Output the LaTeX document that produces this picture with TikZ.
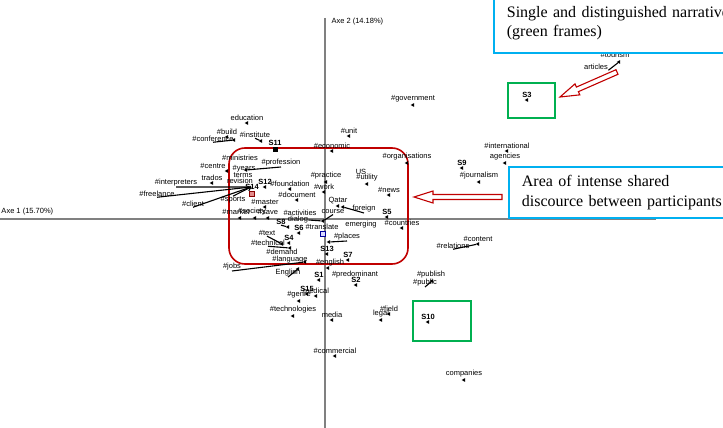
\documentclass[tikz,border=0pt]{standalone}
\usepackage{fontspec}
\setmainfont{Liberation Sans}
\newfontfamily\notefont{Liberation Serif}
\usetikzlibrary{positioning, calc, shapes.geometric}

\definecolor{areared}{RGB}{192,0,0}
\definecolor{framegreen}{RGB}{0,176,80}
\definecolor{noteblue}{RGB}{0,176,240}
\definecolor{axisgray}{RGB}{128,128,128}

% hollow arrow from tip #1 back to tail #2
\newcommand{\hollowarrow}[2]{%
  \coordinate (hb) at ($(#1)!19pt!(#2)$);
  \draw[hollow] (#1) -- ($(hb)!6pt!90:(#1)$) -- ($(hb)!2.5pt!90:(#1)$)
    -- ($(#2)!2.5pt!90:(hb)$) -- ($(#2)!2.5pt!-90:(hb)$)
    -- ($(hb)!2.5pt!-90:(#1)$) -- ($(hb)!6pt!-90:(#1)$) -- cycle;}

\begin{document}
\begin{tikzpicture}[
    x=1pt, y=-1pt,
    lbl/.style={font=\fontsize{7.5}{8}\selectfont, inner sep=0.3pt},
    sid/.style={lbl, font=\fontsize{7.5}{8}\selectfont\bfseries},
    pt/.style={isosceles triangle, isosceles triangle apex angle=60, shape border rotate=180,
        fill=black, inner sep=0pt, minimum height=3.4pt, minimum width=3.2pt},
    sq/.style={rectangle, draw=black, fill=black, inner sep=0pt, minimum size=4pt},
    lead/.style={line width=1.1pt},
    axis/.style={axisgray, line width=1.2pt},
    area/.style={draw=areared, line width=1.6pt, rounded corners=16pt},
    frame/.style={draw=framegreen, line width=1.8pt},
    note/.style={draw=noteblue, line width=1.8pt, fill=white, align=left, inner xsep=13pt,
        font=\notefont\fontsize{16}{19.5}\selectfont},
    hollow/.style={draw=areared, line width=1.1pt, fill=white}
]
\useasboundingbox (0,0) rectangle (723,428);

% axes
\coordinate (ax1a) at (0,219);
\coordinate (ax1b) at (656,219);
\coordinate (ax2a) at (325,18);
\coordinate (ax2b) at (325,428);
\draw[axis] (ax1a) -- (ax1b);
\draw[axis] (ax2a) -- (ax2b);
\node[lbl, anchor=west] (axe1) at (1,212) {Axe 1 (15.70\%)};
\node[lbl, anchor=west] (axe2) at (331,22) {Axe 2 (14.18\%)};

% frames
\node[area, minimum width=179pt, minimum height=116pt] (shared) at (318.5,206) {};
\node[frame, minimum width=47pt, minimum height=35pt] (frame3) at (531.5,100.5) {};
\node[frame, minimum width=58pt, minimum height=40pt] (frame10) at (442,321) {};

% upper half
\node[pt] (xgov) at (413,105) {};
\node[lbl, above=0.5pt of xgov] (gov) {\#government};
\node[pt] (xunit) at (349,136) {};
\node[lbl, above=0.5pt of xunit] (unit) {\#unit};
\node[pt] (xecon) at (332,151) {};
\node[lbl, above=0.5pt of xecon] (econ) {\#economic};
\node[pt] (xedu) at (247,123) {};
\node[lbl, above=0.5pt of xedu] (edu) {education};
\node[pt] (xbuild) at (227,137) {};
\node[lbl, above=0.5pt of xbuild] (build) {\#build};
\node[pt] (xconf) at (234,140) {};
\node[lbl] (conf) at (213,139) {\#conference};
\draw[lead] (conf.south) -- (xconf);
\node[pt] (xinst) at (261,141) {};
\node[lbl] (inst) at (255,135) {\#institute};
\draw[lead] (inst.south) -- (xinst);
\node[sq] (xs11) at (275,149) {};
\node[sid, above=0.5pt of xs11] (s11) {S11};

% left cluster
\coordinate (hub) at (251,187);
\node[pt] (xcentre) at (227,171) {};
\node[lbl] (centre) at (213,166) {\#centre};
\node[lbl] (minis) at (240,158) {\#ministries};
\node[pt] (xtrados) at (212,183) {};
\node[lbl, above=0.5pt of xtrados] (trados) {trados};
\node[lbl] (interp) at (176,183) {\#interpreters};
\node[lbl] (freel) at (157,194) {\#freelance};
\node[lbl] (client) at (193,204) {\#client};
\node[lbl] (years) at (244,169) {\#years};
\node[lbl] (terms) at (243,175) {terms};
\node[lbl] (revis) at (240,181) {revision};
\node[lbl] (sports) at (233,200) {\#sports};
\draw[lead] (interp.south) -- (hub);
\draw[lead] (freel.south) -- (hub);
\draw[lead] (client.south) -- (hub);
\draw[lead] (sports.north) -- (hub);
\node[pt] (xprof) at (246,170) {};
\node[lbl] (prof) at (281,163) {\#profession};
\draw[lead] (xprof) -- (prof.south);
\node[pt] (xs12) at (265,187) {};
\node[sid, above=0.5pt of xs12] (s12) {S12};
\node[pt] (xfound) at (290,189) {};
\node[lbl, above=0.5pt of xfound] (found) {\#foundation};
\node[sq, minimum size=5.5pt, fill=areared!45, draw=areared!70!black, line width=0.9pt] (xs14) at (252,194) {};
\node[sid, above=0.5pt of xs14] (s14) {S14};
\draw[lead] (hub) -- (xs14.north west);
\node[pt] (xdoc) at (297,200) {};
\node[lbl, above=0.5pt of xdoc] (doc) {\#document};
\node[pt] (xmaster) at (265,207) {};
\node[lbl, above=0.5pt of xmaster] (master) {\#master};
\node[pt] (xmarket) at (240,218) {};
\node[lbl] (market) at (236,212) {\#market};
\node[pt] (xsociety) at (255,218) {};
\node[lbl] (society) at (252,212) {\#society};
\node[pt] (xsave) at (268,218) {};
\node[lbl] (save) at (268,212) {\#save};

% centre of the map
\node[lbl] (activ) at (300,213) {\#activities};
\node[lbl] (dialog) at (298,220) {dialog};
\node[pt] (xorig) at (323,221) {};
\node[lbl] (course) at (333,212) {course};
\draw[lead] (dialog.east) -- (xorig);
\draw[lead] (course.south) -- (xorig);
\node[pt] (xqatar) at (338,206) {};
\node[lbl, above=0.5pt of xqatar] (qatar) {Qatar};
\node[pt] (xforeign) at (343,207) {};
\node[lbl] (foreign) at (364,209) {foreign};
\draw[lead] (xforeign) -- (foreign.south);
\node[pt] (xpract) at (326,182) {};
\node[lbl, above=0.5pt of xpract] (pract) {\#practice};
\node[pt] (xwork) at (324,192) {};
\node[lbl, above=0.5pt of xwork] (work) {\#work};
\node[lbl] (us) at (361,172) {US};
\node[pt] (xutil) at (367,184) {};
\node[lbl, above=0.5pt of xutil] (util) {\#utility};
\node[pt] (xorgs) at (407,163) {};
\node[lbl, above=0.5pt of xorgs] (orgs) {\#organisations};
\node[pt] (xnews) at (389,195) {};
\node[lbl, above=0.5pt of xnews] (news) {\#news};
\node[pt] (xs5) at (387,217) {};
\node[sid, above=0.5pt of xs5] (s5) {S5};
\node[pt] (xcountr) at (402,228) {};
\node[lbl, above=0.5pt of xcountr] (countr) {\#countries};
\node[lbl] (emerg) at (361,225) {emerging};
\node[sq, minimum size=5.5pt, fill=blue!15, draw=blue!60!black, line width=0.9pt] (xtrans) at (323,234) {};
\node[lbl] (trans) at (322,227) {\#translate};
\node[pt] (xplaces) at (329,242) {};
\node[lbl] (places) at (347,237) {\#places};
\draw[lead] (xplaces) -- (places.south);
\node[pt] (xs13) at (327,254) {};
\node[sid, above=0.5pt of xs13] (s13) {S13};
\node[pt] (xs7) at (348,260) {};
\node[sid, above=0.5pt of xs7] (s7) {S7};
\node[pt] (xs8) at (288,227) {};
\node[sid] (s8) at (281,222) {S8};
\draw[lead] (s8.south) -- (xs8);
\node[pt] (xs6) at (299,233) {};
\node[sid, above=0.5pt of xs6] (s6) {S6};
\node[pt] (xtext) at (282,244) {};
\node[lbl] (text) at (267,233) {\#text};
\draw[lead] (text.south) -- (xtext);
\node[pt] (xs4) at (289,243) {};
\node[sid, above=0.5pt of xs4] (s4) {S4};
\node[pt] (xtech) at (290,248) {};
\node[lbl] (tech) at (268,243) {\#technical};
\draw[lead] (tech.south) -- (xtech);
\node[lbl] (demand) at (282,252) {\#demand};
\node[lbl] (lang) at (290,260) {\#language};
\node[pt] (xlang) at (305,262) {};
\node[lbl] (jobs) at (232,267) {\#jobs};
\draw[lead] (jobs.south) -- (xlang);

% lower half
\node[pt] (xehash) at (328,268) {};
\node[lbl] (ehash) at (330,263) {\#english};
\node[pt] (xeng) at (298,269) {};
\node[lbl] (eng) at (288,273) {English};
\draw[lead] (eng.south) -- (xeng);
\node[pt] (xs1) at (319,280) {};
\node[sid, above=0.5pt of xs1] (s1) {S1};
\node[lbl] (predom) at (355,275) {\#predominant};
\node[pt] (xs2) at (356,285) {};
\node[sid, above=0.5pt of xs2] (s2) {S2};
\node[pt] (xs15) at (307,294) {};
\node[sid, above=0.5pt of xs15] (s15) {S15};
\node[pt] (xmed) at (316,296) {};
\node[lbl, above=0.5pt of xmed] (med) {medical};
\node[pt] (xgenre) at (299,301) {};
\node[lbl, above=0.5pt of xgenre] (genre) {\#genre};
\node[pt] (xtechn) at (293,316) {};
\node[lbl, above=0.5pt of xtechn] (techn) {\#technologies};
\node[pt] (xmedia) at (332,320) {};
\node[lbl, above=0.5pt of xmedia] (media) {media};
\node[pt] (xfield) at (389,314) {};
\node[lbl, above=0.5pt of xfield] (field) {\#field};
\node[pt] (xlegal) at (381,320) {};
\node[lbl, above=0.5pt of xlegal] (legal) {legal};
\node[pt] (xcomm) at (335,356) {};
\node[lbl, above=0.5pt of xcomm] (comm) {\#commercial};
\node[pt] (xs10) at (428,322) {};
\node[sid, above=0.5pt of xs10] (s10) {S10};
\node[pt] (xcomp) at (464,380) {};
\node[lbl, above=0.5pt of xcomp] (comp) {companies};
\node[pt] (xpub) at (432,281) {};
\node[lbl] (publish) at (431,275) {\#publish};
\node[lbl] (public) at (425,283) {\#public};
\draw[lead] (public.south) -- (xpub);
\node[pt] (xcont) at (478,244) {};
\node[lbl, above=0.5pt of xcont] (cont) {\#content};
\node[lbl] (relat) at (453,246) {\#relations};
\draw[lead] (relat.south) -- (xcont);

% right side
\node[pt] (xintl) at (507,151) {};
\node[lbl, above=0.5pt of xintl] (intl) {\#international};
\node[pt] (xagen) at (505,163) {};
\node[lbl, above=0.5pt of xagen] (agen) {agencies};
\node[pt] (xs9) at (462,168) {};
\node[sid, above=0.5pt of xs9] (s9) {S9};
\node[pt] (xjourn) at (479,182) {};
\node[lbl, above=0.5pt of xjourn] (journ) {\#journalism};
\node[pt] (xs3) at (527,100) {};
\node[sid, above=0.5pt of xs3] (s3) {S3};
\node[pt] (xart) at (619,62) {};
\node[lbl] (art) at (596,67) {articles};
\draw[lead] (art.south east) -- (xart);
\node[lbl] (tour) at (615,55) {\#tourism};

% notes and arrows
\node[note, anchor=west, inner ysep=13pt, text width=240pt] (narr) at (493,23)
    {Single and distinguished narratives\\(green frames)};
\node[note, anchor=north west, inner ysep=8.5pt, text width=205pt] (intense) at (508,166)
    {Area of intense shared\\discource between participants};
\coordinate (tip1) at (414,197);
\coordinate (tail1) at (502,197);
\coordinate (tip2) at (560,97);
\coordinate (tail2) at (617,72);
\hollowarrow{tip1}{tail1}
\hollowarrow{tip2}{tail2}

\end{tikzpicture}
\end{document}
